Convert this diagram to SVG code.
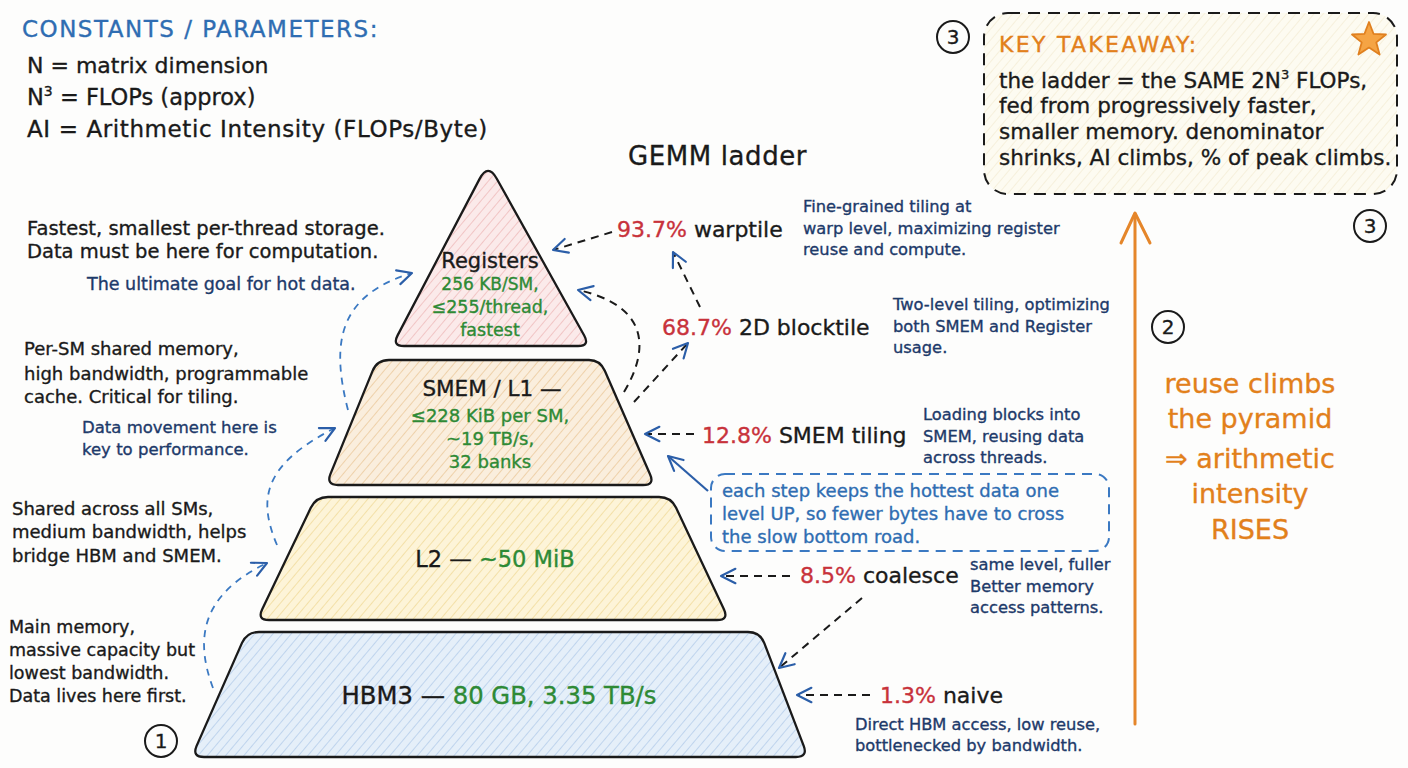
<svg xmlns="http://www.w3.org/2000/svg" width="1408" height="768" viewBox="0 0 1408 768">
<defs>
<style>
text{font-family:"DejaVu Sans","Liberation Sans",sans-serif;stroke-width:0.35px;}
.blk{fill:#1a1a1a;stroke:#1a1a1a;}
.nv{fill:#1d3a6a;stroke:#1d3a6a;}
.bl{fill:#2f6db2;stroke:#2f6db2;}
.rd{fill:#c8323b;stroke:#c8323b;}
.gr{fill:#2e8a35;stroke:#2e8a35;}
.or{fill:#e2801b;stroke:#e2801b;}
.shape{stroke:#1a1a1a;stroke-width:2.3;stroke-linejoin:round;}
.dk{fill:none;stroke:#1a1a1a;stroke-width:2;stroke-dasharray:8 6;}
.bd{fill:none;stroke:#3b79c2;stroke-width:1.8;stroke-dasharray:7 6;}
.circ{fill:none;stroke:#1a1a1a;stroke-width:2;}
.num{font-size:20px;fill:#1a1a1a;stroke:#1a1a1a;text-anchor:middle;}
.note{font-size:18px;}
.small{font-size:16.3px;}
.lbl{font-size:22px;}
.mid{text-anchor:middle;}
</style>
<marker id="ah" viewBox="0 0 20 20" refX="18" refY="10" markerWidth="18" markerHeight="18" markerUnits="userSpaceOnUse" orient="auto">
<path d="M2,2 L18,10 L2,18" fill="none" stroke="#2b5ea8" stroke-width="2.4" stroke-linecap="round" stroke-linejoin="round"/>
</marker>
<pattern id="hReg" width="7" height="7" patternUnits="userSpaceOnUse" patternTransform="rotate(40)">
<rect width="7" height="7" fill="#fbeaea"/><line x1="0" y1="0" x2="0" y2="7" stroke="#efbcbc" stroke-width="1.6"/>
</pattern>
<pattern id="hSm" width="7" height="7" patternUnits="userSpaceOnUse" patternTransform="rotate(40)">
<rect width="7" height="7" fill="#faeedd"/><line x1="0" y1="0" x2="0" y2="7" stroke="#ebca9d" stroke-width="1.6"/>
</pattern>
<pattern id="hL2" width="7" height="7" patternUnits="userSpaceOnUse" patternTransform="rotate(40)">
<rect width="7" height="7" fill="#fdf4d8"/><line x1="0" y1="0" x2="0" y2="7" stroke="#f1db9c" stroke-width="1.6"/>
</pattern>
<pattern id="hHbm" width="7" height="7" patternUnits="userSpaceOnUse" patternTransform="rotate(40)">
<rect width="7" height="7" fill="#e5eff9"/><line x1="0" y1="0" x2="0" y2="7" stroke="#b5cdea" stroke-width="1.6"/>
</pattern>
<pattern id="hKey" width="7" height="7" patternUnits="userSpaceOnUse" patternTransform="rotate(40)">
<rect width="7" height="7" fill="#fdfbf1"/><line x1="0" y1="0" x2="0" y2="7" stroke="#f4ecd3" stroke-width="1.4"/>
</pattern>
</defs>
<rect width="1408" height="768" fill="#fdfdfc"/>

<g id="constants">
<text x="22" y="37" class="bl" style="font-size:23px;letter-spacing:1.5px">CONSTANTS / PARAMETERS:</text>
<text x="27" y="73" class="blk" style="font-size:22px">N = matrix dimension</text>
<text x="27" y="105" class="blk" style="font-size:22.5px">N<tspan dy="-9" style="font-size:14px">3</tspan><tspan dy="9"> = FLOPs (approx)</tspan></text>
<text x="27" y="137" class="blk" style="font-size:23px;letter-spacing:0.6px">AI = Arithmetic Intensity (FLOPs/Byte)</text>
</g>

<g id="title">
<text x="628" y="165" class="blk" style="font-size:26px;letter-spacing:0.6px">GEMM ladder</text>
</g>

<g id="notes-left">
<text x="27" y="235" class="blk" style="font-size:19.5px">Fastest, smallest per-thread storage.</text>
<text x="27" y="258" class="blk" style="font-size:19.5px">Data must be here for computation.</text>
<text x="87" y="290" class="nv" style="font-size:17.5px">The ultimate goal for hot data.</text>
<text x="24" y="355" class="blk note">Per-SM shared memory,</text>
<text x="24" y="380" class="blk note">high bandwidth, programmable</text>
<text x="24" y="403" class="blk note">cache. Critical for tiling.</text>
<text x="82" y="433" class="nv" style="font-size:16.5px">Data movement here is</text>
<text x="82" y="455" class="nv" style="font-size:16.5px">key to performance.</text>
<text x="12" y="515" class="blk note">Shared across all SMs,</text>
<text x="12" y="538" class="blk note">medium bandwidth, helps</text>
<text x="12" y="562" class="blk note">bridge HBM and SMEM.</text>
<text x="9" y="633" class="blk" style="font-size:17.5px">Main memory,</text>
<text x="9" y="656" class="blk" style="font-size:17.5px">massive capacity but</text>
<text x="9" y="679" class="blk" style="font-size:17.5px">lowest bandwidth.</text>
<text x="9" y="702" class="blk" style="font-size:17.5px">Data lives here first.</text>
</g>

<g id="registers">
<path class="shape" fill="url(#hReg)" d="M479.6,178.9 Q488,163 496.8,178.7 L584.2,335.5 Q590,346 578,346 L404,346 Q392,346 397.6,335.4 Z"/>
<text x="490" y="268" class="blk mid" style="font-size:21px">Registers</text>
<text x="490" y="290" class="gr mid" style="font-size:17px">256 KB/SM,</text>
<text x="490" y="313" class="gr mid" style="font-size:17.5px">≤255/thread,</text>
<text x="490" y="336" class="gr mid" style="font-size:17.5px">fastest</text>
</g>

<g id="smem">
<path class="shape" fill="url(#hSm)" d="M389,360 L589,360 Q600,360 604.8,370.8 L650,474.2 Q655,485 643,485 L338,485 Q326,485 330.5,473.9 L372.5,371.1 Q377,360 389,360 Z"/>
<text x="492" y="396" class="blk mid" style="font-size:21.5px">SMEM / L1 —</text>
<text x="490" y="422" class="gr mid" style="font-size:18px">≤228 KiB per SM,</text>
<text x="490" y="445" class="gr mid" style="font-size:18px">~19 TB/s,</text>
<text x="490" y="468" class="gr mid" style="font-size:18px">32 banks</text>
</g>

<g id="l2">
<path class="shape" fill="url(#hL2)" d="M328,497 L659,497 Q671,497 676.1,507.8 L723.9,609.2 Q729,620 717,620 L269,620 Q257,620 262.2,609.2 L310.8,507.8 Q316,497 328,497 Z"/>
<text x="495" y="567" class="mid" style="font-size:22.5px"><tspan class="blk">L2 — </tspan><tspan class="gr">~50 MiB</tspan></text>
</g>

<g id="hbm">
<path class="shape" fill="url(#hHbm)" d="M259,632 L748,632 Q760,632 764.3,643.2 L803.7,745.8 Q808,757 796,757 L204,757 Q192,757 196.5,746.1 L242,642.9 Q247,632 259,632 Z"/>
<text x="499" y="704" class="mid" style="font-size:24.3px"><tspan class="blk">HBM3 — </tspan><tspan class="gr">80 GB, 3.35 TB/s</tspan></text>
</g>

<g id="steps">
<text x="617" y="237" class="lbl"><tspan class="rd">93.7%</tspan><tspan class="blk"> warptile</tspan></text>
<text x="662" y="335" class="lbl"><tspan class="rd">68.7%</tspan><tspan class="blk"> 2D blocktile</tspan></text>
<text x="702" y="443" class="lbl"><tspan class="rd">12.8%</tspan><tspan class="blk"> SMEM tiling</tspan></text>
<text x="800" y="583" class="lbl"><tspan class="rd">8.5%</tspan><tspan class="blk"> coalesce</tspan></text>
<text x="880" y="703" class="lbl"><tspan class="rd">1.3%</tspan><tspan class="blk"> naive</tspan></text>
</g>

<g id="notes-right">
<text x="803" y="212" class="nv small">Fine-grained tiling at</text>
<text x="803" y="234" class="nv small">warp level, maximizing register</text>
<text x="803" y="255" class="nv small">reuse and compute.</text>
<text x="893" y="310" class="nv small">Two-level tiling, optimizing</text>
<text x="893" y="332" class="nv small">both SMEM and Register</text>
<text x="893" y="353" class="nv small">usage.</text>
<text x="923" y="420" class="nv small">Loading blocks into</text>
<text x="923" y="442" class="nv small">SMEM, reusing data</text>
<text x="923" y="463" class="nv small">across threads.</text>
<text x="970" y="570" class="nv small">same level, fuller</text>
<text x="970" y="592" class="nv small">Better memory</text>
<text x="970" y="613" class="nv small">access patterns.</text>
<text x="855" y="730" class="nv small">Direct HBM access, low reuse,</text>
<text x="855" y="751" class="nv small">bottlenecked by bandwidth.</text>
</g>

<g id="callout">
<rect x="711" y="474" width="398" height="77" rx="14" fill="none" stroke="#3b79c2" stroke-width="2" stroke-dasharray="10 7"/>
<text x="722" y="497" class="bl" style="font-size:18px">each step keeps the hottest data one</text>
<text x="722" y="520" class="bl" style="font-size:18px">level UP, so fewer bytes have to cross</text>
<text x="722" y="543" class="bl" style="font-size:18px">the slow bottom road.</text>
</g>

<g id="key-takeaway">
<rect x="984" y="13" width="413" height="181" rx="24" fill="url(#hKey)" stroke="#1a1a1a" stroke-width="2" stroke-dasharray="12 8"/>
<text x="999" y="52" class="or" style="font-size:22px;letter-spacing:2.3px">KEY TAKEAWAY:</text>
<polygon points="1369,22 1373.5,33.8 1386,34.5 1376.3,42.4 1379.6,54.6 1369,47.6 1358.4,54.6 1361.7,42.4 1352,34.5 1364.5,33.8" fill="#f5a444" stroke="#e0801f" stroke-width="1.8" stroke-linejoin="round"/>
<text x="999" y="88" class="blk" style="font-size:21.5px">the ladder = the SAME 2N<tspan dy="-9" style="font-size:13px">3</tspan><tspan dy="9"> FLOPs,</tspan></text>
<text x="999" y="113" class="blk" style="font-size:21.5px">fed from progressively faster,</text>
<text x="999" y="139" class="blk" style="font-size:21.5px">smaller memory. denominator</text>
<text x="999" y="165" class="blk" style="font-size:21.5px">shrinks, AI climbs, % of peak climbs.</text>
</g>

<g id="badges">
<circle cx="161" cy="741" r="16" class="circ"/><text x="161" y="748" class="num">1</text>
<circle cx="1168" cy="327" r="16" class="circ"/><text x="1168" y="334" class="num">2</text>
<circle cx="953" cy="37" r="16" class="circ"/><text x="953" y="44" class="num">3</text>
<circle cx="1370" cy="226" r="16" class="circ"/><text x="1370" y="233" class="num">3</text>
</g>

<g id="reuse-arrow">
<line x1="1135" y1="724" x2="1135" y2="214" stroke="#e5862a" stroke-width="3" stroke-linecap="round"/>
<path d="M1121,243 L1135,213 L1150,243" fill="none" stroke="#e5862a" stroke-width="3" stroke-linecap="round" stroke-linejoin="round"/>
<text x="1250" y="393" class="or mid" style="font-size:27px">reuse climbs</text>
<text x="1250" y="428" class="or mid" style="font-size:27px">the pyramid</text>
<text x="1250" y="468" class="or mid" style="font-size:27px">⇒ arithmetic</text>
<text x="1250" y="503" class="or mid" style="font-size:27px">intensity</text>
<text x="1250" y="539" class="or mid" style="font-size:27px">RISES</text>
</g>

<g id="connectors">
<path class="bd" d="M213,688 C195,640 200,595 267,563" marker-end="url(#ah)"/>
<path class="bd" d="M277,545 C258,500 262,465 335,428" marker-end="url(#ah)"/>
<path class="bd" d="M348,410 C330,340 340,295 412,273" marker-end="url(#ah)"/>
<path class="dk" d="M612,232 L553,250" marker-end="url(#ah)"/>
<path class="dk" d="M624,392 C652,345 645,305 578,290" marker-end="url(#ah)"/>
<path class="dk" d="M634,402 L688,343" marker-end="url(#ah)"/>
<path class="dk" d="M700,307 L673,252" marker-end="url(#ah)"/>
<path class="dk" d="M694,434 L645,434" marker-end="url(#ah)"/>
<path d="M708,491 L668,456" fill="none" stroke="#2b5ea8" stroke-width="2.2" marker-end="url(#ah)"/>
<path class="dk" d="M790,576 L721,576" marker-end="url(#ah)"/>
<path class="dk" d="M862,598 L779,668" marker-end="url(#ah)"/>
<path class="dk" d="M870,695 L797,695" marker-end="url(#ah)"/>
</g>
</svg>
